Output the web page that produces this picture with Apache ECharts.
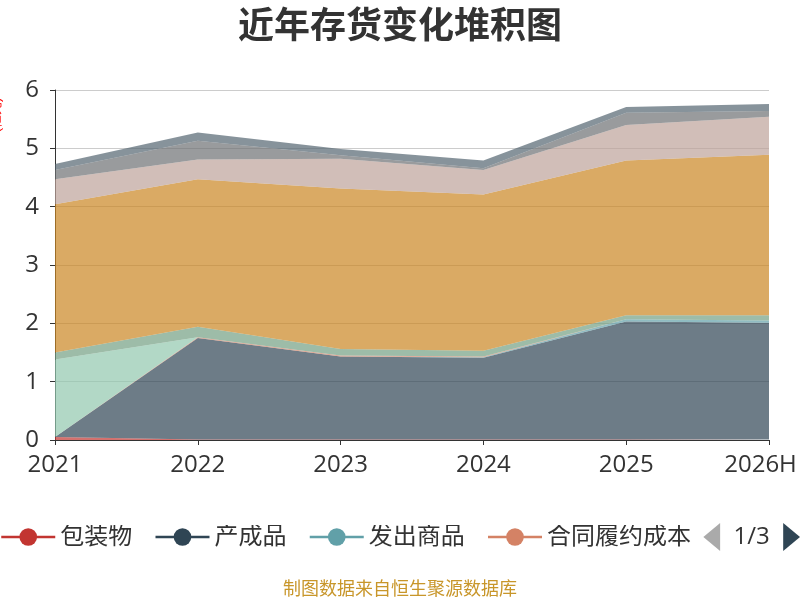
<!DOCTYPE html>
<html>
<head>
<meta charset="utf-8">
<script src="https://cdn.jsdelivr.net/npm/echarts@6/dist/echarts.min.js"></script>
<style>html,body{margin:0;padding:0;background:#fff}#c{width:800px;height:600px}</style>
</head>
<body>
<div id="c"></div>
<script>
var categories = ['2021', '2022', '2023', '2024', '2025', '2026H'];
var seriesNames = ['包装物', '产成品', '发出商品', '合同履约成本', '库存商品', '委托加工物资', '原材料', '在产品', '周转材料', '自制半成品'];
var baozhuangwu   = [0.05, 0.01, 0.01, 0.01, 0.01, 0.01];
var chanchengpin  = [0.00, 1.74, 1.42, 1.40, 2.02, 2.00];
var fachushangpin = [0.00, 0.00, 0.00, 0.01, 0.04, 0.04];
var hetonglvyue   = [0.00, 0.01, 0.02, 0.01, 0.00, 0.00];
var kucunshangpin = [1.33, 0.00, 0.00, 0.00, 0.00, 0.00];
var weituojiagong = [0.12, 0.18, 0.11, 0.10, 0.07, 0.09];
var yuancailiao   = [2.54, 2.53, 2.75, 2.68, 2.65, 2.75];
var zaichanpin    = [0.43, 0.34, 0.51, 0.42, 0.61, 0.65];
var zhouzhuancailiao = [0.16, 0.32, 0.06, 0.03, 0.21, 0.10];
var zizhibanchengpin = [0.10, 0.14, 0.11, 0.13, 0.10, 0.12];
var yTicks = [0, 6, 1];

var seriesData = [baozhuangwu, chanchengpin, fachushangpin, hetonglvyue, kucunshangpin,
  weituojiagong, yuancailiao, zaichanpin, zhouzhuancailiao, zizhibanchengpin];
var colors = ['#c23531','#2f4554','#61a0a8','#d48265','#91c7ae','#749f83','#ca8622','#bda29a','#6e7074','#546570','#c4ccd3'];
var FONT = '"Open Sans", "Noto Sans CJK SC", sans-serif';
var lastCat = categories[categories.length - 1];

var chart = echarts.init(document.getElementById('c'));
chart.setOption({
  color: colors,
  animation: false,
  textStyle: { fontFamily: FONT },
  title: {
    text: '近年存货变化堆积图',
    left: 'center', top: 5,
    textStyle: { fontSize: 36, fontWeight: 'bold', color: '#333', fontFamily: FONT }
  },
  graphic: [
    { type: 'text', x: -4, y: 115, rotation: Math.PI / 2,
      style: { text: '(亿元)', fill: '#ff0000', fontSize: 13, align: 'center', verticalAlign: 'middle' } },
    { type: 'text', left: 'center', top: 581,
      style: { text: '制图数据来自恒生聚源数据库', fill: '#c8962a', fontSize: 18, fontFamily: FONT } }
  ],
  legend: {
    type: 'scroll',
    left: 0, right: 0, top: 523, padding: 0,
    itemWidth: 54, itemHeight: 22, itemGap: 22,
    textStyle: { fontSize: 24, color: '#333', fontFamily: FONT },
    lineStyle: { width: 2.5, opacity: 1 },
    pageIconSize: 28,
    pageButtonItemGap: 2,
    pageButtonGap: 5,
    pageIconColor: '#2f4554',
    pageIconInactiveColor: '#aaa',
    pageTextStyle: { fontSize: 24, color: '#333', fontFamily: FONT },
    data: seriesNames
  },
  grid: { left: 55, right: 31, top: 90, bottom: 160, outerBoundsMode: 'none', containLabel: false },
  xAxis: {
    type: 'category', boundaryGap: false, data: categories,
    axisLine: { lineStyle: { color: '#333' } },
    axisTick: { show: true, interval: 0, lineStyle: { color: '#333' } },
    axisLabel: {
      interval: 0, hideOverlap: false,
      fontSize: 24, color: '#333', margin: 13,
      formatter: function (v) { return v === lastCat ? '{r|' + v + '}' : v; },
      rich: { r: { fontSize: 24, color: '#333', fontFamily: FONT, padding: [0, 17, 0, 0] } }
    }
  },
  yAxis: {
    type: 'value', min: yTicks[0], max: yTicks[1], interval: yTicks[2],
    axisLine: { show: true, lineStyle: { color: '#333' } },
    axisTick: { show: true, lineStyle: { color: '#333' } },
    axisLabel: { fontSize: 24, color: '#333', margin: 16 },
    splitLine: { lineStyle: { color: '#ccc' } }
  },
  series: seriesNames.map(function (n, i) {
    return {
      name: n, type: 'line', stack: 'total',
      data: seriesData[i],
      showSymbol: false, symbol: 'circle',
      lineStyle: { width: 0 },
      areaStyle: { opacity: 0.7 }
    };
  })
});
</script>
</body>
</html>
